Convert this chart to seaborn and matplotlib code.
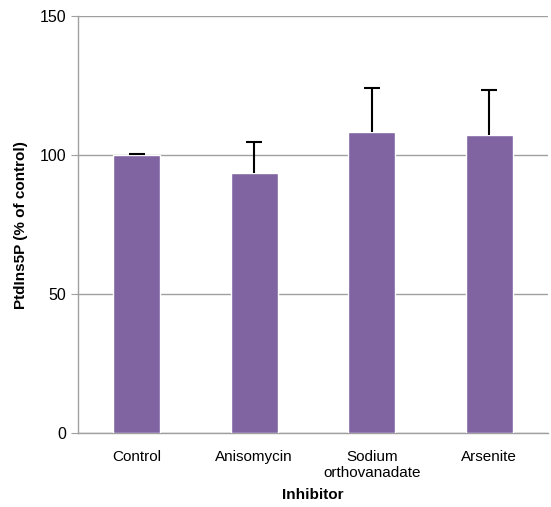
import matplotlib
matplotlib.use("Agg")
import matplotlib.pyplot as plt
import seaborn as sns
import pandas as pd

categories = ["Control", "Anisomycin", "Sodium\northovanadate", "Arsenite"]
values = [100.0, 93.5, 108.5, 107.2]
errors = [0.3, 11.2, 15.6, 16.4]

sns.set_style("white")
plt.rcParams['font.family'] = ['Liberation Sans', 'DejaVu Sans']
plt.rcParams['text.color'] = 'black'
plt.rcParams['axes.labelcolor'] = 'black'
plt.rcParams['xtick.color'] = 'black'
plt.rcParams['ytick.color'] = 'black'

df = pd.DataFrame({"Inhibitor": categories, "Value": values})

fig = plt.figure(figsize=(5.51, 5.07), dpi=100)
ax = fig.add_axes([0.1416, 0.146, 0.853, 0.822])

sns.barplot(data=df, x="Inhibitor", y="Value", color="#8064A2", saturation=1,
            width=0.4, errorbar=None, ax=ax, zorder=3)
eb = ax.errorbar(x=list(range(len(categories))), y=values,
                 yerr=[[0] * len(errors), errors], fmt="none", ecolor="black",
                 elinewidth=1.5, capsize=6, capthick=1.5, zorder=4)
# hide lower caps (only upward error bars)
eb[1][0].set_visible(False)

ax.set_ylim(0, 150)
ax.set_yticks([0, 50, 100, 150])
ax.set_xlim(-0.5, 3.5)
ax.yaxis.grid(True, color="#A0A0A0", linewidth=1.0, zorder=0)
ax.set_axisbelow(True)

for s in ["top", "right"]:
    ax.spines[s].set_visible(False)
for s in ["left", "bottom"]:
    ax.spines[s].set_color("#A0A0A0")
    ax.spines[s].set_linewidth(1.0)

ax.set_xticks([-0.5, 0.5, 1.5, 2.5, 3.5], minor=True)
ax.tick_params(axis="x", which="major", length=0, labelsize=11, pad=12)
ax.tick_params(axis="x", which="minor", length=5, color="#A0A0A0", direction="out")
ax.tick_params(axis="y", which="major", length=5, color="#A0A0A0", labelcolor="black",
               direction="out", labelsize=11.5, left=True)

ax.set_xlabel("Inhibitor", fontweight="bold", fontsize=11, labelpad=6)
ax.set_ylabel("PtdIns5P (% of control)", fontweight="bold", fontsize=11, labelpad=8)

fig.savefig("out.png", dpi=100)
